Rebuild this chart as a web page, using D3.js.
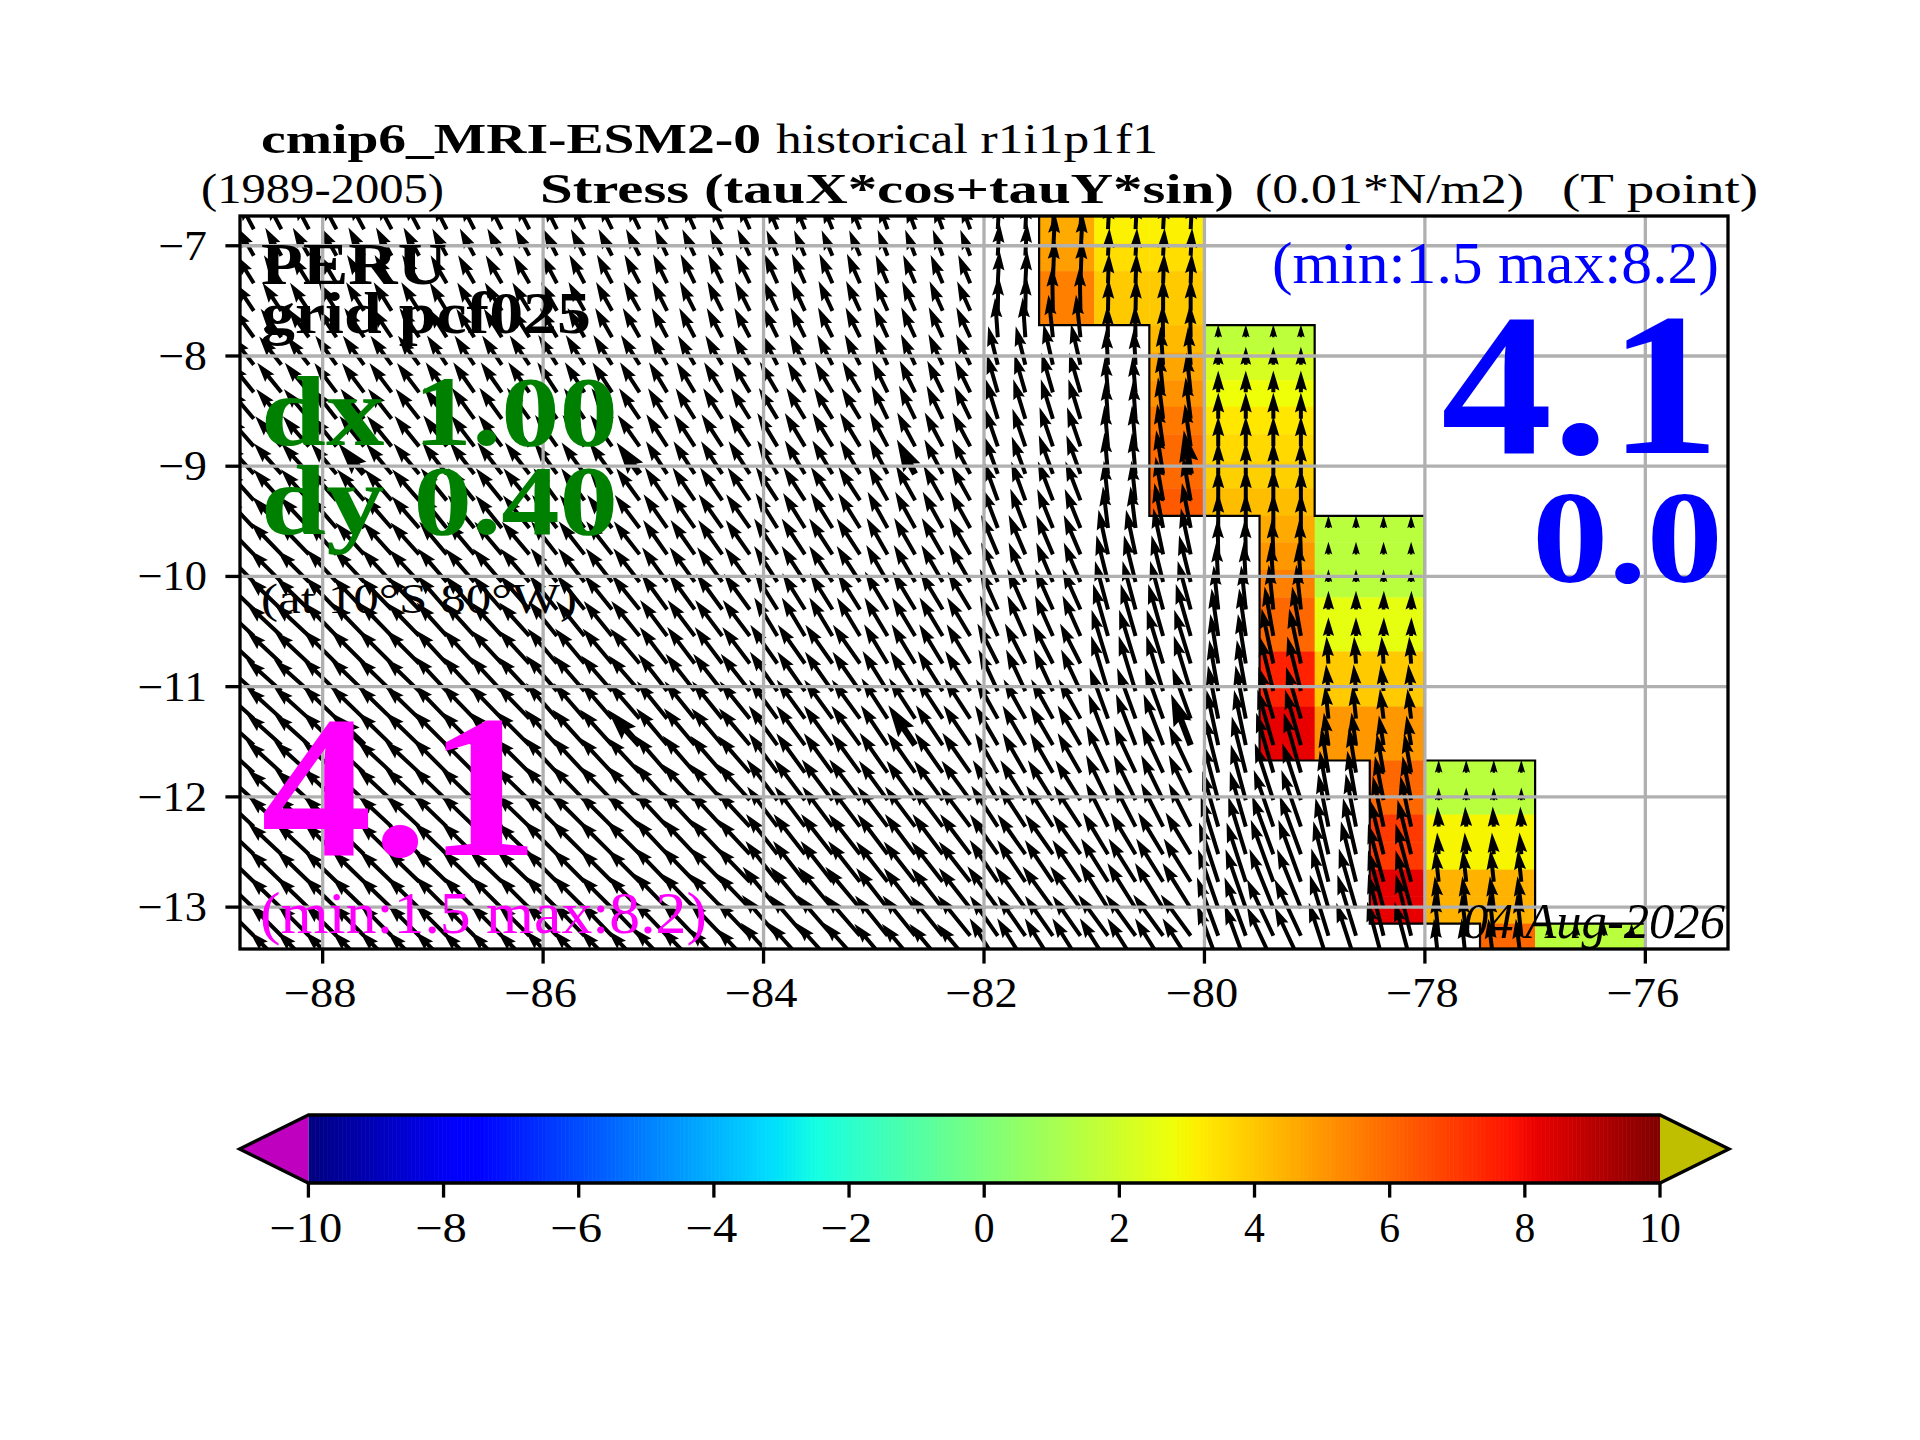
<!DOCTYPE html>
<html><head><meta charset="utf-8">
<script src="https://cdn.jsdelivr.net/npm/d3@7"></script>
<style>html,body{margin:0;padding:0;background:#fff}svg{display:block}text{font-family:"Liberation Serif",serif;white-space:pre}</style>
</head><body><svg id="c" width="1920" height="1440" viewBox="0 0 1920 1440"></svg>
<script>
// ---------- data ----------
const lonTicks=[-88,-86,-84,-82,-80,-78,-76];
const latTicks=[-7,-8,-9,-10,-11,-12,-13];
const cbTicks=[-10,-8,-6,-4,-2,0,2,4,6,8,10];
const lonExtent=[-88.75,-75.25];
const latExtent=[-13.38,-6.73];
// quiver grid
const arrowLons=[-88.625,-88.375,-88.125,-87.875,-87.625,-87.375,-87.125,-86.875,-86.625,-86.375,-86.125,-85.875,-85.625,-85.375,-85.125,-84.875,-84.625,-84.375,-84.125,-83.875,-83.625,-83.375,-83.125,-82.875,-82.625,-82.375,-82.125,-81.875,-81.625,-81.375,-81.125,-80.875,-80.625,-80.375,-80.125,-79.875,-79.625,-79.375,-79.125,-78.875,-78.625,-78.375,-78.125,-77.875,-77.625,-77.375,-77.125,-76.875,-76.625,-76.375,-76.125];
const arrowLats=[-6.85,-7.09,-7.34,-7.59,-7.83,-8.08,-8.33,-8.57,-8.82,-9.07,-9.31,-9.56,-9.80,-10.05,-10.30,-10.54,-10.79,-11.04,-11.29,-11.53,-11.78,-12.03,-12.27,-12.52,-12.77,-13.01,-13.26,-13.51];
// longitude bands (west edge of each) used by the two tables below
const bandWest=[-89,-88,-87,-86,-85,-84,-83,-82,-81.5,-81,-80.5,-80,-79.5,-79,-78.5,-78,-77.5,-77,-76.5];
// stress magnitude (0.01 N/m2), 0 = no vector; one line per latitude, one column per band
const arrowMag=[
[4.3,4.3,4.1,4.0,3.9,3.7,3.7,4.0,5.6,4.0,4.0,0,0,0,0,0,0,0,0],
[4.3,4.3,4.1,4.0,3.9,3.7,3.7,4.4,5.7,3.7,3.7,0,0,0,0,0,0,0,0],
[4.4,4.4,4.3,4.3,4.3,4.3,4.1,4.4,5.9,4.0,4.0,0,0,0,0,0,0,0,0],
[4.5,4.5,4.4,4.4,4.4,4.4,4.3,4.7,5.9,4.3,4.3,0,0,0,0,0,0,0,0],
[4.7,4.7,4.5,4.5,4.4,4.4,4.4,5.3,5.7,4.3,4.4,1.7,1.7,0,0,0,0,0,0],
[4.8,4.8,4.7,4.7,4.5,4.5,4.5,5.3,5.6,4.8,5.1,2.4,2.4,0,0,0,0,0,0],
[5.1,4.9,4.9,4.8,4.7,4.7,4.7,5.3,5.5,4.8,5.3,2.9,2.9,0,0,0,0,0,0],
[5.2,5.1,5.1,4.9,4.8,4.8,4.9,5.5,5.5,5.1,5.6,3.5,3.5,0,0,0,0,0,0],
[5.3,5.2,5.2,5.1,5.1,5.2,5.1,5.3,5.5,5.5,5.7,4.0,4.0,0,0,0,0,0,0],
[5.5,5.3,5.3,5.2,5.2,5.2,5.2,5.3,5.5,5.5,5.9,4.3,4.3,0,0,0,0,0,0],
[5.6,5.5,5.5,5.3,5.3,5.3,5.3,5.5,5.6,5.3,5.9,4.3,4.3,0,0,0,0,0,0],
[5.7,5.6,5.6,5.5,5.5,5.5,5.5,5.6,5.6,5.6,6.1,4.7,4.7,1.7,1.7,0,0,0,0],
[5.9,5.7,5.7,5.6,5.6,5.7,5.6,5.7,5.7,6.1,6.3,4.8,4.8,1.7,1.7,0,0,0,0],
[6.0,5.9,5.9,5.7,5.7,5.7,5.7,5.7,5.7,6.4,6.4,5.3,5.3,1.7,1.7,0,0,0,0],
[6.1,6.0,6.0,5.9,5.9,5.7,5.9,5.9,5.9,6.7,6.7,5.9,6.0,2.5,2.5,0,0,0,0],
[6.3,6.1,6.0,6.0,6.0,6.0,6.0,5.9,5.9,7.2,7.2,6.4,6.7,2.5,2.5,0,0,0,0],
[6.3,6.3,6.1,6.1,6.1,6.3,6.1,6.0,6.0,7.5,7.5,6.7,7.5,3.6,3.6,0,0,0,0],
[6.3,6.3,6.3,6.3,6.3,6.4,6.3,6.1,6.1,7.7,7.7,6.9,7.5,3.6,3.6,0,0,0,0],
[6.3,6.3,6.3,6.3,6.4,6.4,6.4,6.0,6.0,7.2,7.2,7.2,7.2,4.4,4.0,0,0,0,0],
[6.3,6.3,6.4,6.4,6.4,6.5,6.4,6.1,6.1,7.3,7.3,7.5,7.7,4.4,4.0,0,0,0,0],
[6.3,6.3,6.4,6.4,6.5,6.5,6.5,6.1,6.1,6.9,6.9,7.7,8.3,6.1,5.3,1.7,1.7,0,0],
[6.1,6.3,6.3,6.4,6.5,6.8,6.5,6.3,6.3,6.7,6.7,7.7,8.0,6.7,6.0,1.7,1.7,0,0],
[6.1,6.1,6.3,6.3,6.4,6.7,6.7,6.5,6.5,6.5,6.5,7.7,8.0,7.2,6.9,2.7,2.7,0,0],
[6.1,6.1,6.1,6.3,6.4,6.8,6.7,6.5,6.5,6.5,6.5,8.0,8.3,7.7,7.5,2.9,2.9,0,0],
[6.0,6.0,6.1,6.1,6.4,6.9,6.8,6.7,6.7,6.8,6.8,8.3,8.8,8.3,8.0,4.3,4.3,0,0],
[6.0,6.0,6.0,6.1,6.5,7.2,6.8,6.9,6.9,7.1,7.1,8.3,8.5,8.3,8.0,4.3,4.3,0,0],
[6.0,6.0,6.0,6.1,6.5,7.2,6.9,6.5,6.5,6.8,6.8,8.3,8.3,8.5,8.5,5.7,5.7,1.7,1.7],
[6.0,6.0,6.0,6.1,6.5,7.3,6.9,7.1,7.1,7.1,7.1,8.3,8.3,8.5,8.5,6.0,6.0,1.7,1.7]];
// direction, degrees west of north
const arrowDir=[
[28,28,27,26,24,22,20,-3,-3,-3,-3,0,0,0,0,0,0,0,0],
[30,29,28,27,25,23,21,-3,-3,-3,-3,0,0,0,0,0,0,0,0],
[32,31,30,28,26,24,23,-3,-2,-2,-2,0,0,0,0,0,0,0,0],
[34,32,31,29,27,25,24,-1,1,-1,0,0,0,0,0,0,0,0,0],
[36,34,32,30,28,26,25,4,6,1,1,0,0,0,0,0,0,0,0],
[38,36,34,32,30,27,25,14,13,3,4,0,0,0,0,0,0,0,0],
[39,37,35,33,31,30,26,16,16,5,6,0,0,0,0,0,0,0,0],
[40,38,36,34,32,31,26,17,17,4,7,0,0,0,0,0,0,0,0],
[41,39,37,35,33,31,28,19,19,5,8,0,0,0,0,0,0,0,0],
[42,40,38,36,33,31,28,20,20,5,9,0,0,0,0,0,0,0,0],
[42,41,39,36,34,33,29,20,21,6,10,0,0,0,0,0,0,0,0],
[43,41,39,37,35,32,29,21,22,7,11,0,0,0,0,0,0,0,0],
[44,42,40,38,35,33,30,23,23,12,12,1,2,0,0,0,0,0,0],
[45,43,41,38,36,33,30,23,23,14,14,3,4,0,0,0,0,0,0],
[46,44,41,39,36,32,31,24,24,15,15,6,6,0,-1,0,0,0,0],
[47,44,42,39,37,31,31,24,24,16,16,8,10,0,-1,0,0,0,0],
[47,45,43,40,37,35,31,27,27,17,17,9,12,4,4,0,0,0,0],
[48,46,43,41,38,35,32,25,25,17,17,10,14,5,6,0,0,0,0],
[48,46,44,41,39,36,33,29,29,20,20,11,16,6,7,0,0,0,0],
[48,46,45,42,40,36,34,30,30,21,21,12,16,8,9,0,0,0,0],
[48,47,45,43,41,36,35,30,30,25,25,14,16,9,10,0,0,0,0],
[48,47,46,44,42,37,36,32,32,26,26,15,18,10,11,0,0,0,0],
[47,47,46,45,43,37,37,33,33,27,27,16,19,11,12,3,3,0,0],
[47,46,46,45,43,38,37,35,35,31,31,17,20,13,14,4,5,0,0],
[46,46,46,45,44,38,38,34,34,32,32,18,20,14,15,6,6,0,0],
[46,46,45,45,44,40,38,36,36,32,32,19,22,16,15,7,7,0,0],
[45,45,45,44,44,41,39,35,35,36,36,20,25,17,14,6,6,0,0],
[45,45,45,44,44,42,40,32,32,32,32,20,25,18,15,6,7,0,0]];
// the heavier vectors: every tenth latitude and longitude of the grid
const heavyLatIdx=[9,19];
const heavyLonIdx=[4,14,24,34];
// coloured cells: edges in latitude, then one list per half-degree column
const cellEdgeLats=[-6.73,-6.98,-7.23,-7.48,-7.72,-7.97,-8.22,-8.46,-8.71,-8.96,-9.20,-9.45,-9.69,-9.94,-10.19,-10.43,-10.68,-10.93,-11.18,-11.42,-11.67,-11.92,-12.16,-12.41,-12.66,-12.90,-13.15,-13.38];
const cellWest=[-81.5,-81,-80.5,-80,-79.5,-79,-78.5,-78,-77.5,-77,-76.5];
const cellFirstRow=[0,0,0,4,4,11,11,20,20,26,26];
const cellValues=[
[4.6,4.85,5.5,5.5],
[3.1,3.5,3.9,3.95],
[3.1,3.5,3.9,3.95,4.26,4.7,5.1,5.66,5.96,5.96,6.3],
[1.6,2.2,2.8,3.3,3.6,3.8,4.2],
[1.6,2.2,2.8,3.3,3.6,3.8,4.2,4.6,5,5.5,6,6,7.5,7.5,8.2,8.2],
[1.5,1.5,1.5,2.6,2.6,3.9,3.9,5,5],
[1.5,1.5,1.5,2.6,2.6,3.9,3.9,5,5,6,6,7,7,8.2,8.2],
[1.5,1.5,3,3,4.4,4.4],
[1.5,1.5,3,3,4.4,4.4,6],
[1.5],
[1.5]];
// outline of the coloured region
const edgeWestLon=[-81.5,-81.5,-80.5,-80.5,-79.5,-79.5,-78.5,-78.5,-77.5,-77.5];
const edgeEastLon=[-80,-80,-79,-79,-78,-78,-77,-77,-76,-76];
const edgeLat=[-6.73,-7.72,-7.72,-9.45,-9.45,-11.67,-11.67,-13.15,-13.15,-13.38];
const quiverScale=7.5;

// ---------- scales ----------
const svg=d3.select("#c");
const ax={l:240,r:1728,t:216,b:949};
const x=d3.scaleLinear().domain(lonExtent).range([ax.l,ax.r]);
const y=d3.scaleLinear().domain(latExtent).range([ax.b,ax.t]);
const R=d3.scaleLinear().domain([0,.35,.66,.89,1]).range([0,0,1,1,.5]);
const G=d3.scaleLinear().domain([0,.125,.375,.64,.91,1]).range([0,0,1,1,0,0]);
const B=d3.scaleLinear().domain([0,.11,.34,.65,1]).range([.5,1,1,0,0]);
const valT=d3.scaleLinear().domain([-10,10]).range([0,1]);
const jet=v=>{const t=valT(v);return d3.rgb(R(t)*255,G(t)*255,B(t)*255).formatHex();};

svg.append("defs").append("clipPath").attr("id","ax").append("rect")
 .attr("x",ax.l).attr("y",ax.t).attr("width",ax.r-ax.l).attr("height",ax.b-ax.t);
const plot=svg.append("g").attr("clip-path","url(#ax)");

// cells
cellValues.forEach((vals,c)=>{
 vals.forEach((v,k)=>{
  const r=cellFirstRow[c]+k;
  const x0=x(cellWest[c]),x1=x(cellWest[c]+0.5),y0=y(cellEdgeLats[r]),y1=y(cellEdgeLats[r+1]);
  plot.append("rect").attr("x",x0).attr("y",y0).attr("width",x1-x0+.4).attr("height",y1-y0+.4).attr("fill",jet(v));
 });
});
// outline
const edgeLine=d3.line().x(d=>x(d[0])).y(d=>y(d[1]));
[edgeWestLon,edgeEastLon].forEach(l=>plot.append("path").attr("d",edgeLine(l.map((v,i)=>[v,edgeLat[i]])))
 .attr("fill","none").attr("stroke","#000").attr("stroke-width",2.2));

// quiver, shape as matplotlib builds it
const W=4;
function arrowPath(L,w){
 const minsh=5*w; let s=1, len=L;
 if(L<minsh){s=L/minsh;len=minsh;}
 const p=[[0,.5*w],[len-4.5*w,.5*w],[len-5*w,1.5*w],[len,0],[len-5*w,-1.5*w],[len-4.5*w,-.5*w],[0,-.5*w]];
 return "M"+p.map(q=>[(q[0]*s).toFixed(2),(q[1]*s).toFixed(2)].join(",")).join("L")+"Z";
}
const bandOf=lon=>d3.bisectRight(bandWest,lon)-1;
const vecs=[];
arrowLats.forEach((lat,r)=>arrowLons.forEach((lon,c)=>{
 const b=bandOf(lon),m=arrowMag[r][b];
 if(m>0) vecs.push({lon,lat,m,d:arrowDir[r][b],heavy:heavyLatIdx.includes(r)&&heavyLonIdx.includes(c)});
}));
plot.append("g").selectAll("path").data(vecs).join("path")
 .attr("d",d=>arrowPath(d.m*quiverScale,d.heavy?W*1.6:W))
 .attr("transform",d=>`translate(${x(d.lon)},${y(d.lat)}) rotate(${-90-d.d})`)
 .attr("fill","#000");

// grid
const grid=svg.append("g").attr("stroke","#b0b0b0").attr("stroke-width",3.3);
lonTicks.forEach(t=>grid.append("line").attr("x1",x(t)).attr("x2",x(t)).attr("y1",ax.t).attr("y2",ax.b));
latTicks.forEach(t=>grid.append("line").attr("y1",y(t)).attr("y2",y(t)).attr("x1",ax.l).attr("x2",ax.r));

// spines and ticks
svg.append("rect").attr("x",ax.l).attr("y",ax.t).attr("width",ax.r-ax.l).attr("height",ax.b-ax.t)
 .attr("fill","none").attr("stroke","#000").attr("stroke-width",3.3);
const ticks=svg.append("g").attr("stroke","#000").attr("stroke-width",3.3);
lonTicks.forEach(t=>ticks.append("line").attr("x1",x(t)).attr("x2",x(t)).attr("y1",ax.b).attr("y2",ax.b+14.6));
latTicks.forEach(t=>ticks.append("line").attr("y1",y(t)).attr("y2",y(t)).attr("x1",ax.l).attr("x2",ax.l-14.6));

// text helper: left edge, baseline, fitted width
function T(str,xl,base,w,size,fill,opt={}){
 return svg.append("text").attr("x",xl).attr("y",base).attr("font-size",size).attr("fill",fill||"#000")
  .attr("font-weight",opt.bold?"bold":"normal").attr("font-style",opt.italic?"italic":"normal")
  .attr("textLength",w).attr("lengthAdjust","spacingAndGlyphs").text(str);
}
const lab=v=>(v<0?"\u2212":"")+Math.abs(v);
const labW=v=>(v<0?31:0)+20.8*String(Math.abs(v)).length;
const labYW=v=>(v<0?28:0)+20.8*String(Math.abs(v)).length;
const labShift=v=>v<0?2.5:0;
lonTicks.forEach(t=>{const w=labW(t);T(lab(t),x(t)-w/2-labShift(t),1007,w,41.67);});
latTicks.forEach(t=>{const w=labYW(t);T(lab(t),207-w,y(t)+14,w,41.67);});

// titles
T("cmip6_MRI-ESM2-0",261,153,500,41.67,"#000",{bold:1});
T("historical r1i1p1f1",776,153,382,41.67);
T("(1989-2005)",201,203,243,41.67);
T("Stress (tauX*cos+tauY*sin)",540,203,694,41.67,"#000",{bold:1});
T("(0.01*N/m2)",1255,203,269,41.67);
T("(T point)",1562,203,196,41.67);

// annotations
T("PERU",261,284,186,58.3,"#000",{bold:1});
T("grid pcf025",261,333,330,58.3,"#000",{bold:1});
T("dx 1.00",261,445,357,100,"#008000",{bold:1});
T("dy 0.40",261,534,357,100,"#008000",{bold:1});
T("(at 10\u00B0S 80\u00B0W)",261,613,316,41.67);
T("4.1",261,855,278,204,"#ff00ff",{bold:1});
T("(min:1.5 max:8.2)",260,933,447,58.3,"#ff00ff");
T("(min:1.5 max:8.2)",1272,283,447,58.3,"#0000ff");
T("4.1",1441,453,279,204,"#0000ff",{bold:1});
T("0.0",1532,582,191,132,"#0000ff",{bold:1});
T("04 Aug-2026",1463,938,262,50,"#000",{italic:1});

// colourbar
const cb={t:1115,b:1183,mid:1149,tipL:239.6,tipR:1729};
const cbX=d3.scaleLinear().domain([-10,10]).range([308.4,1660]);
const nSteps=1000;
const steps=d3.range(nSteps).map(i=>-10+20*i/nSteps);
svg.append("g").selectAll("rect").data(steps).join("rect")
 .attr("x",d=>cbX(d)).attr("y",cb.t).attr("width",(cbX(10)-cbX(-10))/nSteps+.6).attr("height",cb.b-cb.t)
 .attr("fill",d=>jet(d+10/nSteps));
svg.append("path").attr("d",`M${cbX(-10)},${cb.t}L${cb.tipL},${cb.mid}L${cbX(-10)},${cb.b}Z`).attr("fill","#bf00bf");
svg.append("path").attr("d",`M${cbX(10)},${cb.t}L${cb.tipR},${cb.mid}L${cbX(10)},${cb.b}Z`).attr("fill","#bfbf00");
svg.append("path").attr("d",`M${cbX(-10)},${cb.t}L${cb.tipL},${cb.mid}L${cbX(-10)},${cb.b}L${cbX(10)},${cb.b}L${cb.tipR},${cb.mid}L${cbX(10)},${cb.t}Z`)
 .attr("fill","none").attr("stroke","#000").attr("stroke-width",3.3);
cbTicks.forEach(t=>{
 svg.append("line").attr("x1",cbX(t)).attr("x2",cbX(t)).attr("y1",cb.b).attr("y2",cb.b+14.6).attr("stroke","#000").attr("stroke-width",3.3);
 const w=labW(t);T(lab(t),cbX(t)-w/2-labShift(t),1242,w,41.67);
});
</script></body></html>
